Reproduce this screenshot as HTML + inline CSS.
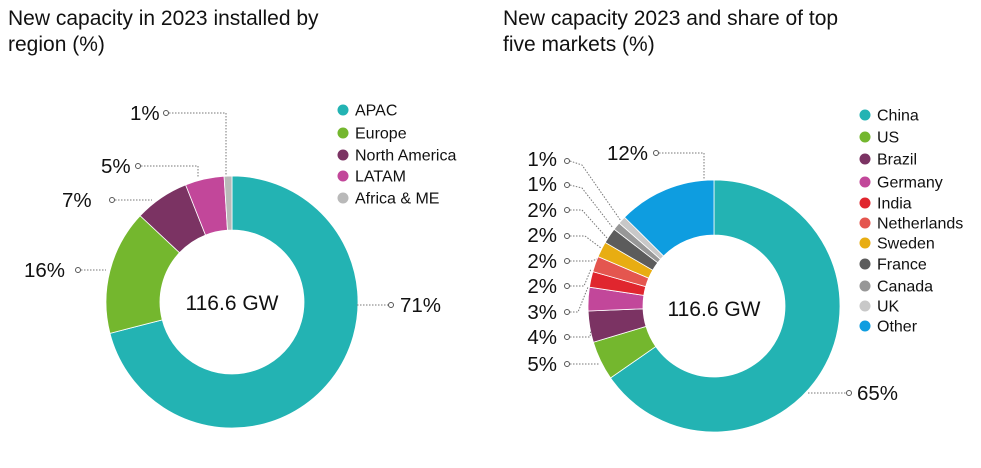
<!DOCTYPE html>
<html><head><meta charset="utf-8"><style>
body{margin:0;background:#fff;width:981px;height:463px;overflow:hidden;font-family:"Liberation Sans",sans-serif}
</style></head><body>
<svg id="s" width="981" height="463" xmlns="http://www.w3.org/2000/svg" font-family="Liberation Sans, sans-serif">
<text x="8" y="25" font-size="21" fill="#111">New capacity in 2023 installed by</text>
<text x="8" y="51" font-size="21" fill="#111">region (%)</text>
<text x="503" y="25" font-size="21" fill="#111">New capacity 2023 and share of top</text>
<text x="503" y="51" font-size="21" fill="#111">five markets (%)</text>
<g id="d1"></g><g id="d2"></g>
<g fill="none" stroke="#777" stroke-width="1" stroke-dasharray="1.5,1.5">
<polyline points="169,113 226,113 226,176"/>
<polyline points="141,166 198,166 198,178"/>
<polyline points="115,200 152,200"/>
<polyline points="81,270 106,270"/>
<polyline points="357,305 388,305"/>
<polyline points="659,153 704,153 704,180"/>
<polyline points="808,393 846,393"/>
<polyline points="570,161 582,165 621,221"/>
<polyline points="570,185 582,188 613,228"/>
<polyline points="570,210 582,210 607,238"/>
<polyline points="570,236 585,236 601,248"/>
<polyline points="570,261 592,261 597,259"/>
<polyline points="570,286 584,286 591,269"/>
<polyline points="570,312 578,312 588,287"/>
<polyline points="570,337 590,337 591,330"/>
<polyline points="570,364 600,364"/>
</g>
<g fill="#fff" stroke="#555" stroke-width="1">
<circle cx="166" cy="113" r="2.5"/><circle cx="138" cy="166" r="2.5"/><circle cx="112" cy="200" r="2.5"/><circle cx="78" cy="270" r="2.5"/><circle cx="391" cy="305" r="2.5"/>
<circle cx="656" cy="153" r="2.5"/><circle cx="849" cy="393" r="2.5"/>
<circle cx="567" cy="161" r="2.5"/><circle cx="567" cy="185" r="2.5"/><circle cx="567" cy="210" r="2.5"/><circle cx="567" cy="236" r="2.5"/><circle cx="567" cy="261" r="2.5"/><circle cx="567" cy="286" r="2.5"/><circle cx="567" cy="312" r="2.5"/><circle cx="567" cy="337" r="2.5"/><circle cx="567" cy="364" r="2.5"/>
</g>
<g font-size="20.5" fill="#111">
<text x="130" y="120">1%</text><text x="101" y="173">5%</text><text x="62" y="207">7%</text><text x="24" y="277">16%</text><text x="400" y="312">71%</text>
<text x="607" y="160">12%</text><text x="857" y="400">65%</text>
<g text-anchor="end">
<text x="557" y="166">1%</text><text x="557" y="191">1%</text><text x="557" y="217">2%</text><text x="557" y="242">2%</text><text x="557" y="268">2%</text><text x="557" y="293">2%</text><text x="557" y="319">3%</text><text x="557" y="344">4%</text><text x="557" y="371">5%</text>
</g>
<text x="232" y="310" text-anchor="middle" font-size="21">116.6 GW</text>
<text x="714" y="316" text-anchor="middle" font-size="21">116.6 GW</text>
</g>
<g id="l1" font-size="16" fill="#111"></g><g id="l2" font-size="16" fill="#111"></g>
</svg>
<script>
function donut(g,cx,cy,R,r,data){var a=-Math.PI/2,h='';var tot=data.reduce(function(s,d){return s+d[0]},0);
data.forEach(function(d){var b=a+d[0]/tot*2*Math.PI,l=(b-a)>Math.PI?1:0;
function p(rr,t){return (cx+rr*Math.cos(t)).toFixed(2)+','+(cy+rr*Math.sin(t)).toFixed(2)}
h+='<path fill="'+d[1]+'" stroke="#fff" stroke-width="0.8" d="M'+p(R,a)+'A'+R+','+R+' 0 '+l+' 1 '+p(R,b)+'L'+p(r,b)+'A'+r+','+r+' 0 '+l+' 0 '+p(r,a)+'Z"/>';a=b;});
document.getElementById(g).innerHTML=h;}
var c1=[[71,'#23b3b3','APAC'],[16,'#74b72e','Europe'],[7,'#7b3363','North America'],[5,'#c2479a','LATAM'],[1,'#b9b9b9','Africa & ME']];
var c2=[[65,'#23b3b3','China'],[5,'#74b72e','US'],[4,'#7b3363','Brazil'],[3,'#c2479a','Germany'],[2,'#e0262e','India'],[2,'#e4564f','Netherlands'],[2,'#e8ad12','Sweden'],[2,'#5c5c5c','France'],[1,'#979797','Canada'],[1,'#c8c8c8','UK'],[12.5,'#0e9de0','Other']];
donut('d1',232,302,126,72,c1);donut('d2',714,306,126,71,c2);
function leg(g,x,ys,data){var h='';data.forEach(function(d,i){h+='<circle cx="'+x+'" cy="'+ys[i]+'" r="5.5" fill="'+d[1]+'"/><text x="'+(x+12)+'" y="'+(ys[i]+5.5)+'">'+d[2].replace('&','&amp;')+'</text>'});document.getElementById(g).innerHTML=h;}
leg('l1',343,[110,133,155,176,198],c1);
leg('l2',865,[115,137,159,182,203,223,243,264,286,306,326],c2);
</script>
</body></html>
